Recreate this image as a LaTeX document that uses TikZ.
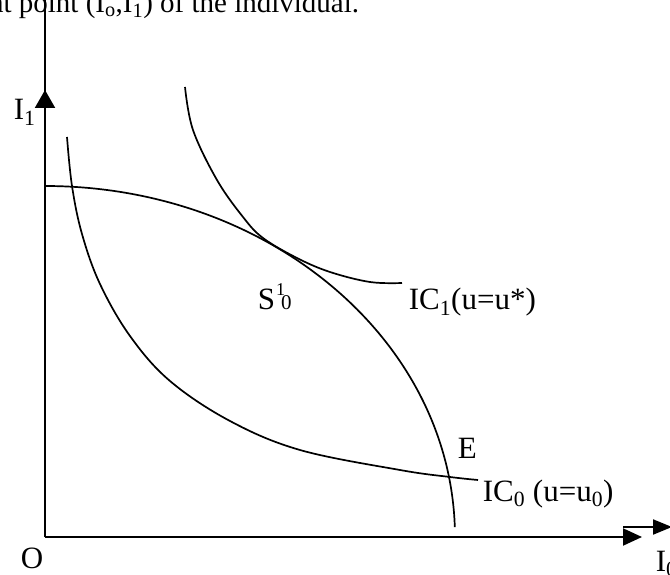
\documentclass[tikz,border=0pt]{standalone}
\usepackage{fontspec}
\setmainfont{Liberation Serif}
\usetikzlibrary{arrows.meta,positioning}

\begin{document}
\begin{tikzpicture}[x=1pt,y=1pt,line width=1.7pt,
  lbl/.style={inner sep=0pt,anchor=base west,font=\fontsize{31}{36}\selectfont},
  axis/.style={line width=2pt}]
\clip(0,0) rectangle (670,574);
% axes
\coordinate(O) at (45,37);
\coordinate(Ytop) at (45,580);
\coordinate(Ytip) at (45,484);
\coordinate(Xtip) at (642,37);
\coordinate(Xup) at (623,47);
\coordinate(Xtip2) at (672,47);
\draw[axis](O)--(Ytop);
\draw[axis,-{Triangle[length=18pt,width=20pt]}](O)--(Ytip);
\draw[axis,-{Triangle[length=19pt,width=17pt]}](O)--(Xtip);
\draw[axis,-{Triangle[length=19pt,width=15pt]}](Xup)--(Xtip2);
% curves
\coordinate(Ppf) at (45,388);
\draw(Ppf) arc[start angle=90,end angle=1.6,x radius=410,y radius=351];
\draw plot[smooth,tension=0.6] coordinates {(185,487) (193,444) (217,394) (243,357) (263,336) (297,316) (330,302) (370,292) (402,291)};
\draw plot[smooth,tension=0.6] coordinates {(67,437) (72,388) (82,340) (100,290) (130,238) (170,193) (230,153) (300,124) (400,104) (450,97) (478,94)};
% labels
\node[lbl,anchor=base east,font=\fontsize{29}{34}\selectfont](Text) at (360,561){nt point (I\textsubscript{o},I\textsubscript{1}) of the individual.};
\node[lbl](I1) at (13,454){I\textsubscript{1}};
\node[lbl](Olbl) at (20,6){O};
\node[lbl](I0) at (655,3){I\textsubscript{0}};
\node[lbl](E) at (457,116){E};
\node[lbl](S) at (257,264){S\hspace{1pt}\rlap{\raisebox{14pt}{\fontsize{18}{18}\selectfont 1}}\hspace{5pt}{\fontsize{21}{21}\selectfont 0}};
\node[lbl](IC1) at (408,264){IC\textsubscript{1}(u=u*)};
\node[lbl](IC0) at (482,73){IC\textsubscript{0} (u=u\textsubscript{0})};
\end{tikzpicture}
\end{document}
